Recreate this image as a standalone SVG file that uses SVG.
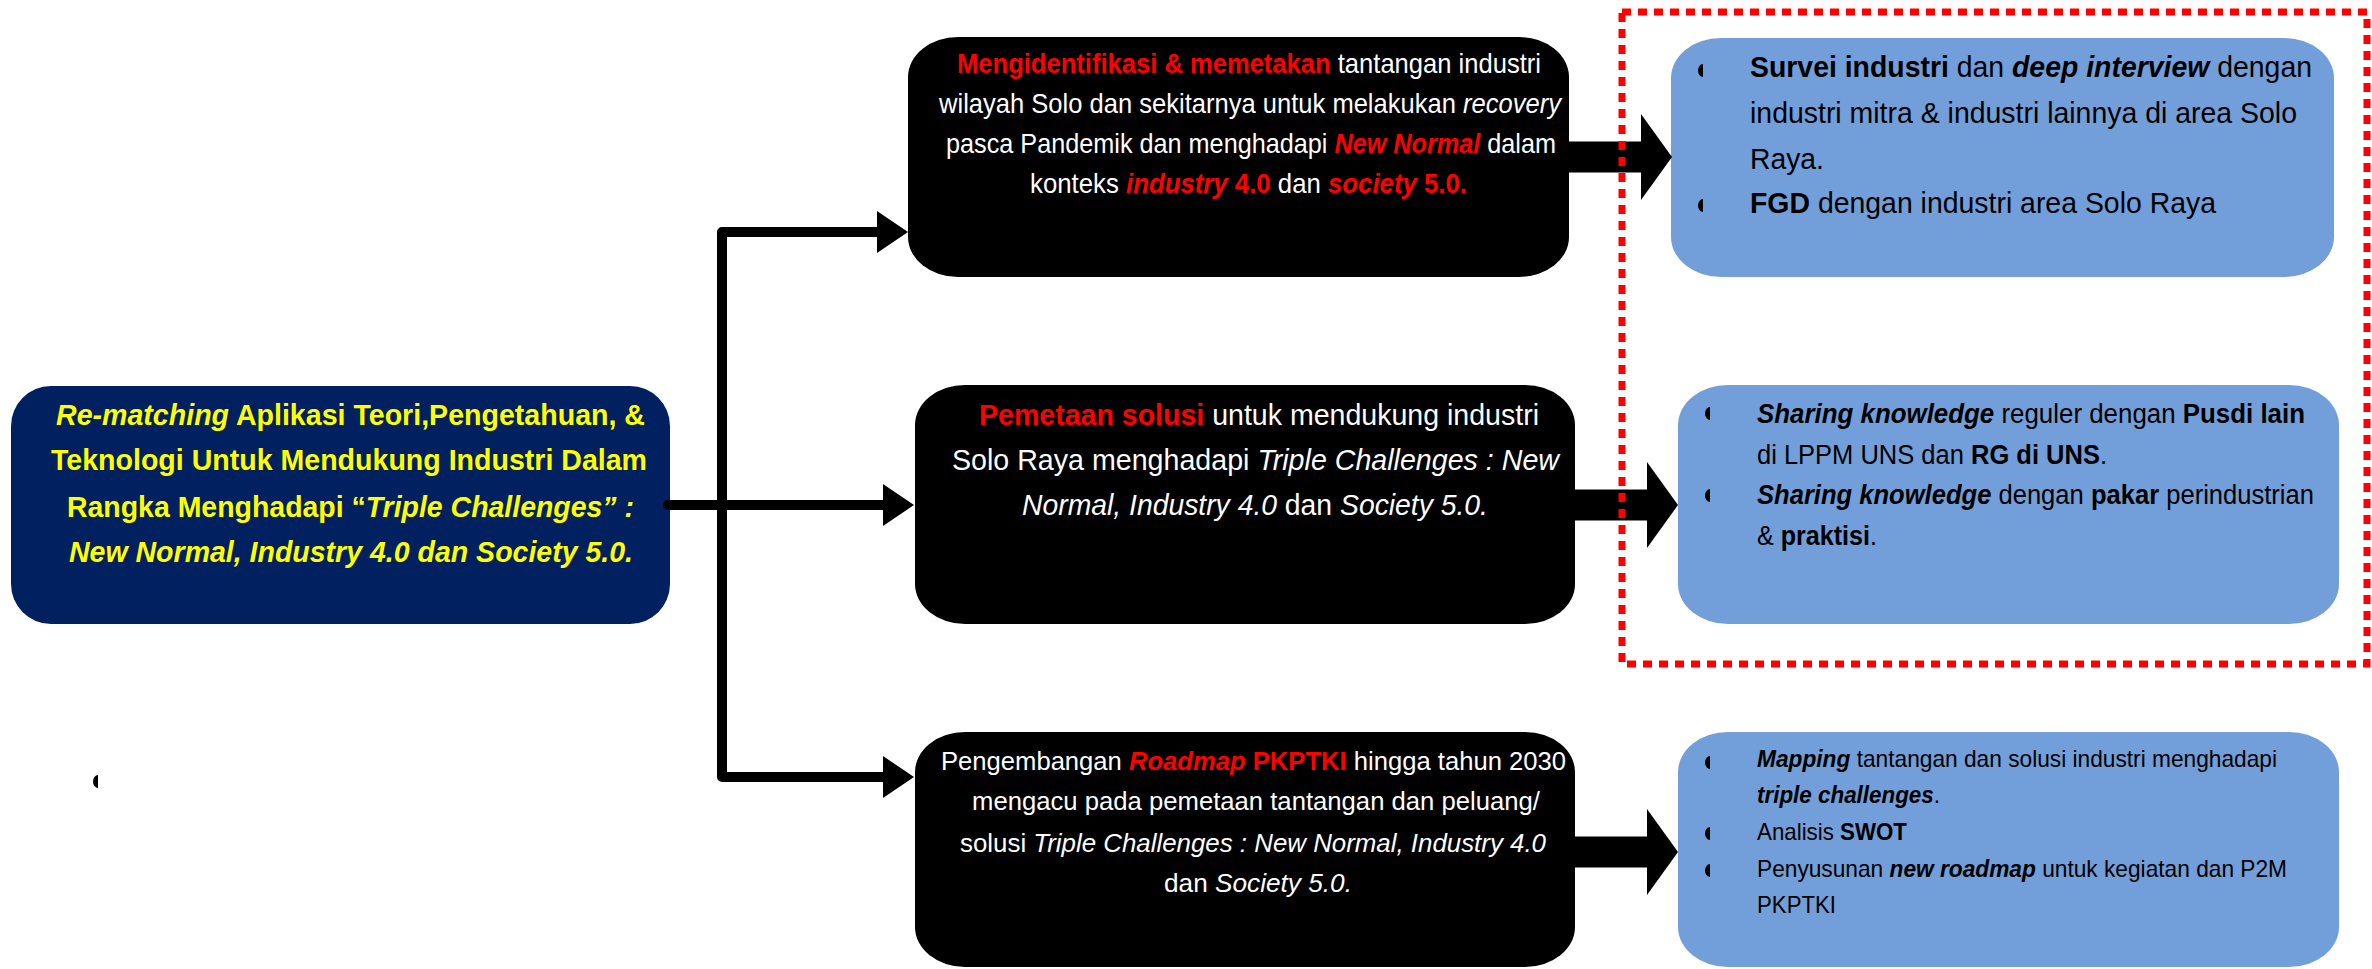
<svg xmlns="http://www.w3.org/2000/svg" xmlns:xlink="http://www.w3.org/1999/xlink" width="2372" height="969" viewBox="0 0 2372 969">
<style>
text{font-family:"Liberation Sans",Arial,sans-serif}
.lt{font-size:30px;font-weight:bold;fill:#FFFF00}
.wt{fill:#FFFFFF}
.bt{fill:#000000}
.r{fill:#FF0000;font-weight:bold}
.i{font-style:italic}
.b{font-weight:bold}
.navy{fill:#002060}
.blk{fill:#000000}
.blue{fill:#729ED9}
.thin{fill:none;stroke:#000;stroke-width:10;stroke-linejoin:round}
.fat{fill:none;stroke:#000;stroke-width:31}
</style>
<defs>
<marker id="ah" markerUnits="userSpaceOnUse" viewBox="0 0 31 42" markerWidth="31" markerHeight="42" refX="0" refY="21" orient="auto"><path d="M0,0 L31,21 L0,42 Z" fill="#000"/></marker>
<marker id="fh" markerUnits="userSpaceOnUse" viewBox="0 0 31 86" markerWidth="31" markerHeight="86" refX="0" refY="43" orient="auto"><path d="M0,0 L31,43 L0,86 Z" fill="#000"/></marker>
<path id="bul" d="M5,0 A5,6.5 0 0 0 5,13 Z" fill="#000"/>
</defs>

<g id="node-main">
<rect class="navy" x="11" y="386" width="659" height="238" rx="40" ry="40"/>
<text class="lt" x="56" y="425" textLength="589" lengthAdjust="spacingAndGlyphs"><tspan class="i">Re-matching</tspan> Aplikasi Teori,Pengetahuan, &amp;</text>
<text class="lt" x="51" y="470" textLength="596" lengthAdjust="spacingAndGlyphs">Teknologi Untuk Mendukung Industri Dalam</text>
<text class="lt" x="67" y="517" textLength="567" lengthAdjust="spacingAndGlyphs">Rangka Menghadapi “<tspan class="i">Triple Challenges” :</tspan></text>
<text class="lt i" x="69" y="562" textLength="564" lengthAdjust="spacingAndGlyphs">New Normal, Industry 4.0 dan Society 5.0.</text>
</g>

<g id="node-dot">
<use xlink:href="#bul" transform="translate(93,775)"/>
</g>

<g id="node-step1">
<rect class="blk" x="908" y="37" width="661" height="240" rx="50" ry="40"/>
<text class="wt" font-size="28" x="957" y="73" textLength="584" lengthAdjust="spacingAndGlyphs"><tspan class="r">Mengidentifikasi &amp; memetakan</tspan> tantangan industri</text>
<text class="wt" font-size="28" x="939" y="113" textLength="622" lengthAdjust="spacingAndGlyphs">wilayah Solo dan sekitarnya untuk melakukan <tspan class="i">recovery</tspan></text>
<text class="wt" font-size="28" x="946" y="153" textLength="610" lengthAdjust="spacingAndGlyphs">pasca Pandemik dan menghadapi <tspan class="r i">New Normal</tspan> dalam</text>
<text class="wt" font-size="28" x="1030" y="193" textLength="437" lengthAdjust="spacingAndGlyphs">konteks <tspan class="r i">industry</tspan> <tspan class="r">4.0</tspan> dan <tspan class="r i">society</tspan> <tspan class="r">5.0.</tspan></text>
</g>

<g id="node-step2">
<rect class="blk" x="915" y="385" width="660" height="239" rx="50" ry="40"/>
<text class="wt" font-size="29" x="979" y="425" textLength="560" lengthAdjust="spacingAndGlyphs"><tspan class="r">Pemetaan solusi</tspan> untuk mendukung industri</text>
<text class="wt" font-size="29" x="952" y="470" textLength="607" lengthAdjust="spacingAndGlyphs">Solo Raya menghadapi <tspan class="i">Triple Challenges : New</tspan></text>
<text class="wt" font-size="29" x="1022" y="515" textLength="466" lengthAdjust="spacingAndGlyphs"><tspan class="i">Normal, Industry 4.0</tspan> dan <tspan class="i">Society 5.0.</tspan></text>
</g>

<g id="node-step3">
<rect class="blk" x="915" y="732" width="660" height="235" rx="50" ry="40"/>
<text class="wt" font-size="26" x="941" y="770" textLength="625" lengthAdjust="spacingAndGlyphs">Pengembangan <tspan class="r i">Roadmap</tspan> <tspan class="r">PKPTKI</tspan> hingga tahun 2030</text>
<text class="wt" font-size="26" x="972" y="810" textLength="568" lengthAdjust="spacingAndGlyphs">mengacu pada pemetaan tantangan dan peluang/</text>
<text class="wt" font-size="26" x="960" y="852" textLength="586" lengthAdjust="spacingAndGlyphs">solusi <tspan class="i">Triple Challenges : New Normal, Industry 4.0</tspan></text>
<text class="wt" font-size="26" x="1164" y="892" textLength="188" lengthAdjust="spacingAndGlyphs">dan <tspan class="i">Society 5.0.</tspan></text>
</g>

<g id="node-act1">
<rect class="blue" x="1671" y="38" width="663" height="239" rx="50" ry="40"/>
<use xlink:href="#bul" transform="translate(1698,64)"/>
<use xlink:href="#bul" transform="translate(1698,199)"/>
<text class="bt" font-size="29" x="1750" y="77" textLength="562" lengthAdjust="spacingAndGlyphs"><tspan class="b">Survei industri</tspan> dan <tspan class="b i">deep interview</tspan> dengan</text>
<text class="bt" font-size="29" x="1750" y="123" textLength="547" lengthAdjust="spacingAndGlyphs">industri mitra &amp; industri lainnya di area Solo</text>
<text class="bt" font-size="29" x="1750" y="169" textLength="74" lengthAdjust="spacingAndGlyphs">Raya.</text>
<text class="bt" font-size="29" x="1750" y="213" textLength="466" lengthAdjust="spacingAndGlyphs"><tspan class="b">FGD</tspan> dengan industri area Solo Raya</text>
</g>

<g id="node-act2">
<rect class="blue" x="1678" y="385" width="661" height="239" rx="50" ry="40"/>
<use xlink:href="#bul" transform="translate(1705,407)"/>
<use xlink:href="#bul" transform="translate(1705,489)"/>
<text class="bt" font-size="27" x="1757" y="423" textLength="548" lengthAdjust="spacingAndGlyphs"><tspan class="b i">Sharing knowledge</tspan> reguler dengan  <tspan class="b">Pusdi lain</tspan></text>
<text class="bt" font-size="27" x="1757" y="464" textLength="350" lengthAdjust="spacingAndGlyphs">di LPPM UNS dan <tspan class="b">RG di UNS</tspan>.</text>
<text class="bt" font-size="27" x="1757" y="504" textLength="557" lengthAdjust="spacingAndGlyphs"><tspan class="b i">Sharing knowledge</tspan> dengan <tspan class="b">pakar</tspan> perindustrian</text>
<text class="bt" font-size="27" x="1757" y="545" textLength="120" lengthAdjust="spacingAndGlyphs">&amp; <tspan class="b">praktisi</tspan>.</text>
</g>

<g id="node-act3">
<rect class="blue" x="1678" y="732" width="661" height="235" rx="50" ry="40"/>
<use xlink:href="#bul" transform="translate(1705,756)"/>
<use xlink:href="#bul" transform="translate(1705,827)"/>
<use xlink:href="#bul" transform="translate(1705,864)"/>
<text class="bt" font-size="24" x="1757" y="767" textLength="520" lengthAdjust="spacingAndGlyphs"><tspan class="b i">Mapping</tspan> tantangan dan solusi industri menghadapi</text>
<text class="bt" font-size="24" x="1757" y="803" textLength="183" lengthAdjust="spacingAndGlyphs"><tspan class="b i">triple challenges</tspan>.</text>
<text class="bt" font-size="24" x="1757" y="840" textLength="150" lengthAdjust="spacingAndGlyphs">Analisis <tspan class="b">SWOT</tspan></text>
<text class="bt" font-size="24" x="1757" y="877" textLength="530" lengthAdjust="spacingAndGlyphs">Penyusunan <tspan class="b i">new roadmap</tspan> untuk kegiatan dan P2M</text>
<text class="bt" font-size="24" x="1757" y="913" textLength="79" lengthAdjust="spacingAndGlyphs">PKPTKI</text>
</g>

<g id="connectors">
<path class="thin" d="M722,505 V232 H877" marker-end="url(#ah)"/>
<path class="thin" d="M722,505 V777 H883" marker-end="url(#ah)"/>
<path class="thin" d="M668,505 H883" stroke-linecap="round" marker-end="url(#ah)"/>
<path class="fat" d="M1560,157 H1641" marker-end="url(#fh)"/>
<path class="fat" d="M1565,505 H1647" marker-end="url(#fh)"/>
<path class="fat" d="M1565,852 H1647" marker-end="url(#fh)"/>
</g>

<g id="highlight">
<rect x="1622" y="12" width="745" height="652" fill="none" stroke="#FF0000" stroke-width="7" stroke-dasharray="9 7"/>
</g>
</svg>
